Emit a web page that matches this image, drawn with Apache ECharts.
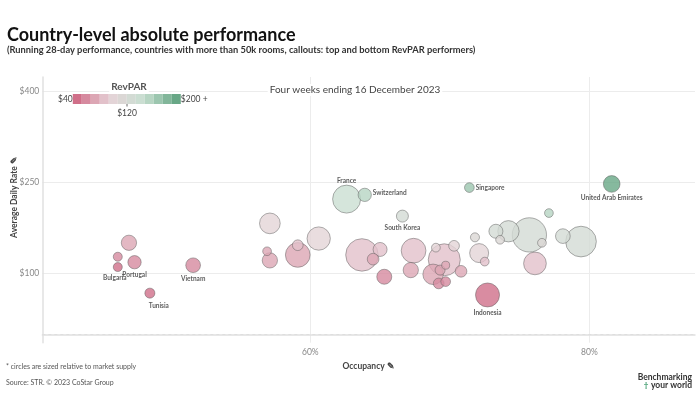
<!DOCTYPE html>
<html>
<head>
<meta charset="utf-8">
<script src="https://cdn.jsdelivr.net/npm/echarts@6/dist/echarts.min.js"></script>
<style>
html,body{margin:0;padding:0;background:#fff;}
#chart{width:700px;height:394px;}
</style>
</head>
<body>
<div id="chart"></div>
<script>
// ---- Data ----
const occupancy = [47.0, 46.2, 46.2, 47.4, 51.6, 48.5, 57.1, 56.9, 57.1, 59.1, 59.1, 60.6, 63.7, 64.5, 65.0, 65.3, 62.6, 63.9, 66.6, 71.4, 81.6, 67.4, 67.2, 69.0, 70.3, 69.6, 68.8, 69.3, 69.7, 69.2, 69.7, 70.8, 71.8, 72.1, 72.5, 72.7, 73.3, 73.6, 74.2, 75.7, 76.6, 77.1, 76.1, 78.1, 79.4];
const adr = [151, 128, 111, 119, 114, 68, 183, 137, 122, 131, 147, 158, 131, 124, 140, 95, 223, 230, 195, 242, 248, 138, 106, 143, 146, 123, 99, 106, 114, 84, 87, 104, 160, 134, 120, 65, 170, 156, 170, 164, 151, 200, 117, 162, 153];
const supply = [193, 67, 67, 146, 179, 83, 354, 63, 193, 504, 95, 449, 873, 113, 162, 186, 648, 146, 119, 78, 230, 504, 193, 63, 95, 846, 347, 83, 53, 95, 78, 113, 67, 298, 63, 476, 162, 63, 375, 972, 63, 63, 426, 179, 779];
const callouts = ['', '', 'Bulgaria', 'Portugal', 'Vietnam', 'Tunisia', '', '', '', '', '', '', '', '', '', '', 'France', 'Switzerland', 'South Korea', 'Singapore', 'United Arab Emirates', '', '', '', '', '', '', '', '', '', '', '', '', '', '', 'Indonesia', '', '', '', '', '', '', '', '', ''];
const yTicks = [100, 250, 400];
const xTicks = [60, 80];
const revparLegend = {min: 40, mid: 120, max: 200};

// ---- Styling ----
const FONT = 'Lato';
const labelPlace = {
  'France': {position: 'top', distance: 0},
  'Switzerland': {position: 'right', distance: 1, offset: [0, -2]},
  'South Korea': {position: 'bottom', distance: 2},
  'Singapore': {position: 'right', distance: 1},
  'United Arab Emirates': {position: 'bottom', distance: 2},
  'Indonesia': {position: 'bottom', distance: 2},
  'Bulgaria': {position: 'bottom', distance: 2, offset: [-3, 0]},
  'Portugal': {position: 'bottom', distance: 2},
  'Vietnam': {position: 'bottom', distance: 2},
  'Tunisia': {position: 'bottom', distance: 4, offset: [9, 0]}
};

const points = occupancy.map((o, i) => {
  const rev = o / 100 * adr[i];
  const revC = Math.min(revparLegend.max, Math.max(revparLegend.min, rev));
  const item = {value: [o, adr[i], supply[i], revC], name: callouts[i]};
  if (callouts[i]) {
    const p = labelPlace[callouts[i]];
    item.label = Object.assign({show: true, formatter: '{b}'}, p);
  }
  return item;
}).sort((a, b) => b.value[2] - a.value[2]);

const chart = echarts.init(document.getElementById('chart'), null, {renderer: 'canvas'});
chart.setOption({
  animation: false,
  backgroundColor: '#fff',
  textStyle: {fontFamily: FONT},
  grid: {left: 42.3, right: 5, top: 77, bottom: 51.3, containLabel: false},
  xAxis: {
    type: 'value', min: 40.79, max: 87.57,
    name: 'Occupancy ✎', nameLocation: 'middle', nameGap: 19,
    nameTextStyle: {fontSize: 8.5, fontWeight: 'bold', color: '#444', fontFamily: FONT},
    axisLine: {show: true, lineStyle: {color: '#e0e0e0', width: 1.5}},
    axisTick: {show: false, customValues: xTicks},
    axisLabel: {customValues: xTicks, formatter: '{value}%', color: '#888', fontSize: 8.5, margin: 5, fontFamily: FONT},
    splitLine: {show: true, lineStyle: {color: '#ececec', width: 1}}
  },
  yAxis: {
    type: 'value', min: -13.7, max: 424.3,
    axisLine: {show: true, lineStyle: {color: '#e0e0e0', width: 1.5}},
    axisTick: {show: false, customValues: yTicks},
    axisLabel: {customValues: yTicks, formatter: '${value}', color: '#888', fontSize: 8.5, margin: 3, fontFamily: FONT},
    splitLine: {show: true, lineStyle: {color: '#ececec', width: 1}}
  },
  visualMap: {
    type: 'piecewise', orient: 'horizontal',
    min: revparLegend.min, max: revparLegend.max, splitNumber: 12,
    dimension: 3, seriesIndex: 0,
    left: 58, top: 94, padding: 0,
    itemWidth: 9, itemHeight: 10, itemGap: 0, itemSymbol: 'rect',
    textGap: 2, text: ['$' + revparLegend.max + ' +', '$' + revparLegend.min],
    textStyle: {fontSize: 8.5, color: '#444', fontFamily: FONT},
    selectedMode: false, hoverLink: false,
    inRange: {color: ['#d06f89', '#e6d3d8', '#c8dfd1', '#68a786']}
  },
  series: [{
    type: 'scatter',
    data: points,
    symbolSize: v => 1.1 * Math.sqrt(v[2]),
    itemStyle: {opacity: 0.8, borderColor: 'rgba(90,90,90,0.75)', borderWidth: 0.8},
    label: {show: false, fontSize: 6.5, fontWeight: 'bold', color: '#333', fontFamily: FONT},
    emphasis: {disabled: true},
    markLine: {
      silent: true, symbol: 'none', animation: false,
      label: {show: false},
      lineStyle: {type: [3, 3], color: '#dedede', width: 1},
      data: [{yAxis: 0}]
    }
  }],
  graphic: [
    {type: 'text', left: 7, top: 26, z: 100, style: {text: 'Country-level absolute performance', font: 'bold 18px ' + FONT, fill: '#111'}},
    {type: 'text', left: 7, top: 45, z: 100, style: {text: '(Running 28-day performance, countries with more than 50k rooms, callouts: top and bottom RevPAR performers)', font: 'bold 9.3px ' + FONT, fill: '#333'}},
    {type: 'text', x: 355, y: 90, z: 100, style: {text: 'Four weeks ending 16 December 2023', font: '10px ' + FONT, fill: '#444', align: 'center', verticalAlign: 'middle', backgroundColor: '#fff', padding: [1, 2]}},
    {type: 'text', x: 129, y: 87, z: 100, style: {text: 'RevPAR', font: 'bold 10px ' + FONT, fill: '#555', align: 'center', verticalAlign: 'middle', backgroundColor: '#fff', padding: [1, 2]}},
    {type: 'text', x: 127, y: 113, z: 100, style: {text: '$' + revparLegend.mid, font: '8.5px ' + FONT, fill: '#444', align: 'center', verticalAlign: 'middle'}},
    {type: 'line', z: 100, shape: {x1: 127, y1: 104, x2: 127, y2: 106.5}, style: {stroke: '#666', lineWidth: 1}},
    {type: 'text', x: 14, y: 197, rotation: Math.PI / 2, style: {text: 'Average Daily Rate ✎', font: 'bold 8.5px ' + FONT, fill: '#444', align: 'center', verticalAlign: 'middle'}},
    {type: 'text', x: 6, y: 367, style: {text: '* circles are sized relative to market supply', font: '7px ' + FONT, fill: '#555', verticalAlign: 'middle'}},
    {type: 'text', x: 6, y: 383, style: {text: 'Source: STR. © 2023 CoStar Group', font: '7px ' + FONT, fill: '#555', verticalAlign: 'middle'}},
    {type: 'text', x: 692, y: 377, style: {text: 'Benchmarking', font: 'bold 8.5px ' + FONT, fill: '#333', align: 'right', verticalAlign: 'middle'}},
    {type: 'text', x: 692, y: 385, style: {text: 'your world', font: 'bold 8.5px ' + FONT, fill: '#333', align: 'right', verticalAlign: 'middle'}},
    {type: 'text', x: 646, y: 385, style: {text: '†', font: 'bold 8px ' + FONT, fill: '#3a9a6a', align: 'center', verticalAlign: 'middle'}}
  ]
});
</script>
</body>
</html>
